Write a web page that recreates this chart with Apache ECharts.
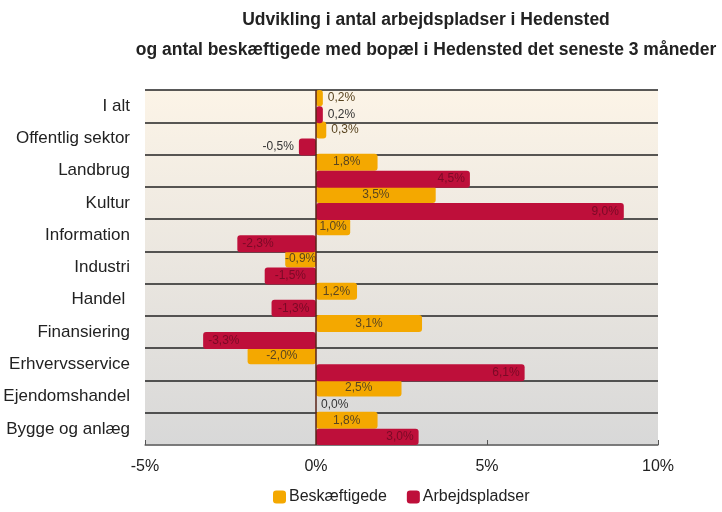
<!DOCTYPE html>
<html>
<head>
<meta charset="utf-8">
<script src="https://cdn.jsdelivr.net/npm/echarts@6/dist/echarts.min.js"></script>
<style>html,body{margin:0;padding:0;background:#fff;}#c{width:722px;height:512px;}</style>
</head>
<body>
<div id="c"></div>
<script>
const categories = ['I alt','Offentlig sektor','Landbrug','Kultur','Information','Industri','Handel ','Finansiering','Erhvervsservice','Ejendomshandel','Bygge og anlæg'];
const beskaeftigede = [0.2, 0.3, 1.8, 3.5, 1.0, -0.9, 1.2, 3.1, -2.0, 2.5, 1.8];
const arbejdspladser = [0.2, -0.5, 4.5, 9.0, -2.3, -1.5, -1.3, -3.3, 6.1, 0.0, 3.0];
const xTicks = [-5, 0, 5, 10];

const FONT = '"Liberation Sans", Arial, sans-serif';
const fmt = v => v.toFixed(1).replace('.', ',') + '%';

function orangePos(v){ return Math.abs(v) < 0.5 ? 'right' : 'inside'; }
function redPos(v){
  if (Math.abs(v) < 0.3) return 'right';
  if (v < 0 && v > -0.8) return 'left';
  if (v > 0) return 'insideRight';
  if (v <= -2) return 'insideLeft';
  return 'inside';
}

const chart = echarts.init(document.getElementById('c'));
chart.setOption({
  animation: false,
  textStyle: { fontFamily: FONT },
  title: {
    text: 'Udvikling i antal arbejdspladser i Hedensted\nog antal beskæftigede med bopæl i Hedensted det seneste 3 måneder',
    left: 421, top: 0, textAlign: 'center',
    textStyle: { fontFamily: FONT, fontSize: 17.5, fontWeight: 'bold', color: '#222', lineHeight: 30 }
  },
  legend: {
    bottom: 2, left: 268, itemWidth: 13, itemHeight: 13, itemGap: 20,
    icon: 'roundRect',
    textStyle: { fontFamily: FONT, fontSize: 16, color: '#222', padding: [0, 0, 0, -2] },
    data: ['Beskæftigede', 'Arbejdspladser']
  },
  grid: {
    left: 145, right: 64, top: 90, bottom: 67, show: true, borderWidth: 0,
    backgroundColor: new echarts.graphic.LinearGradient(0, 0, 0, 1, [
      { offset: 0, color: '#FCF4E7' }, { offset: 1, color: '#D8D8D8' }
    ])
  },
  xAxis: {
    type: 'value', min: -5, max: 10, interval: 5,
    axisLine: { show: true, lineStyle: { color: '#888', width: 1.5 } },
    axisTick: { show: true, inside: true, length: 5, lineStyle: { color: '#555' } },
    splitLine: { show: false },
    axisLabel: { fontFamily: FONT, fontSize: 16, color: '#222', margin: 14,
      formatter: v => xTicks.includes(v) ? v + '%' : '' }
  },
  yAxis: {
    type: 'category', inverse: true, data: categories,
    axisLine: { show: false }, axisTick: { show: false },
    splitLine: { show: true, lineStyle: { color: '#222', width: 1.5 } },
    axisLabel: { fontFamily: FONT, fontSize: 17, color: '#222', margin: 15 }
  },
  series: [
    {
      name: 'Beskæftigede', type: 'bar', barWidth: 17, barGap: '0%',
      itemStyle: { color: '#F4A800', borderRadius: 3 },
      data: beskaeftigede.map(v => ({ value: v, label: { position: orangePos(v) } })),
      label: { show: true, formatter: p => fmt(p.value), fontSize: 12, color: '#5a4520', fontFamily: FONT },
      markLine: {
        silent: true, symbol: 'none', label: { show: false },
        lineStyle: { color: '#5a2418', width: 1.5, type: 'solid' },
        data: [{ xAxis: 0 }]
      }
    },
    {
      name: 'Arbejdspladser', type: 'bar', barWidth: 17, barGap: '0%',
      itemStyle: { color: '#BE0F3A', borderRadius: 3 },
      data: arbejdspladser.map(v => ({ value: v, label: {
        position: redPos(v),
        color: Math.abs(v) < 0.8 ? '#333' : '#7a0a26'
      } })),
      label: { show: true, formatter: p => fmt(p.value), fontSize: 12, fontFamily: FONT }
    }
  ]
});
</script>
</body>
</html>
